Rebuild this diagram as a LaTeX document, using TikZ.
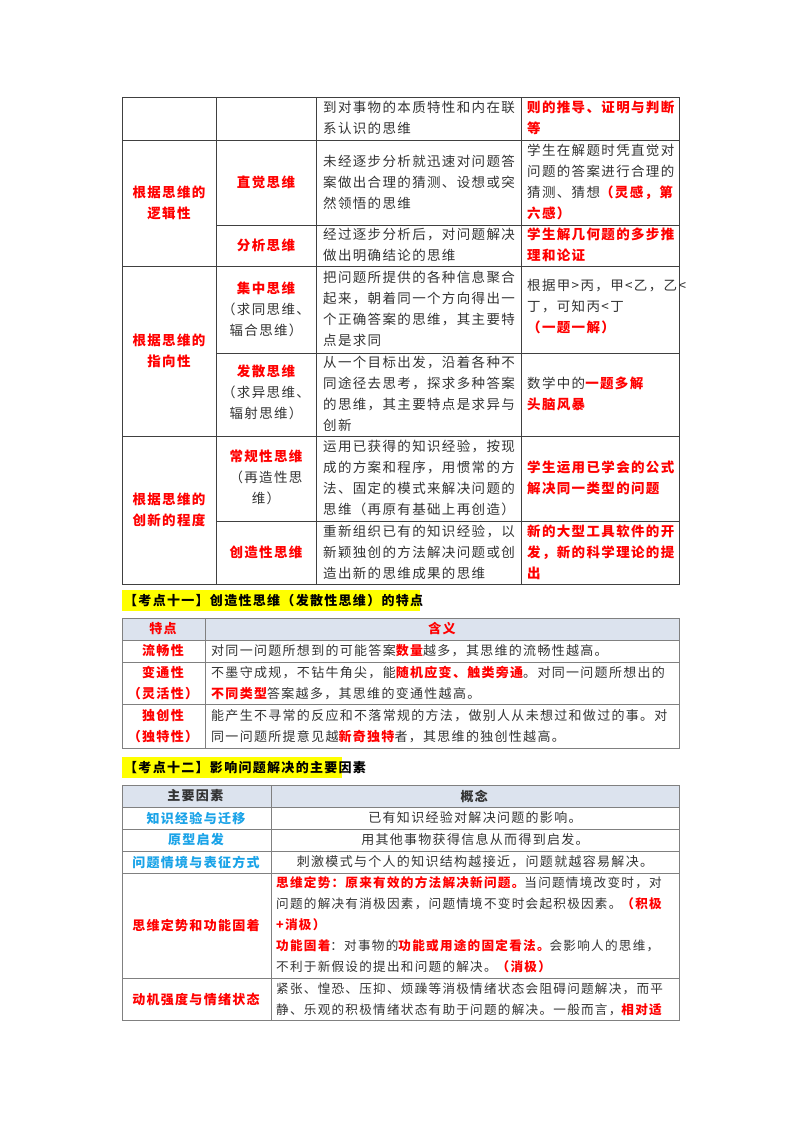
\documentclass[tikz,border=0pt]{standalone}
\usepackage{fontspec}
\setmainfont{Noto Sans CJK SC}[LetterSpace=10]
\XeTeXlinebreaklocale "zh"
\XeTeXlinebreakskip=0pt plus 1pt
\definecolor{txt}{HTML}{333333}
\definecolor{rd}{HTML}{FF0000}
\definecolor{bl}{HTML}{1AA3E8}
\definecolor{hdr}{HTML}{DCE3EE}
\definecolor{yl}{HTML}{FFFF00}
\newcommand\redb[1]{{\bfseries\color{rd}#1}}
\newcommand\blub[1]{{\bfseries\color{bl}#1}}
\tikzset{
 cellL/.style={text=txt,align=left,inner sep=0pt,font=\fontsize{13.5}{21}\selectfont},
 cellC/.style={text=txt,align=center,inner sep=0pt,font=\fontsize{13.5}{21}\selectfont},
 cellS/.style={text=txt,align=left,inner sep=0pt,font=\fontsize{13}{21}\selectfont},
 cellSC/.style={text=txt,align=center,inner sep=0pt,font=\fontsize{13}{21}\selectfont},
 tline/.style={draw=black!75,line width=0.8pt},
 gline/.style={draw=black!50,line width=0.8pt},
 head/.style={anchor=west,inner sep=0pt,font=\fontsize{13}{16}\selectfont\bfseries}
}
\begin{document}
\begin{tikzpicture}[x=1pt,y=-1pt]
\useasboundingbox[fill=white] (0,0) rectangle (800,1132);
% ---------- table 1 grid
\draw[tline] (122,97) rectangle (679,584);
\foreach \x in {216,316,521} \draw[tline] (\x,97) -- (\x,584);
\foreach \y in {140,266,436} \draw[tline] (122,\y) -- (679,\y);
\foreach \y in {225,353,521} \draw[tline] (216,\y) -- (679,\y);
% row 0
\node[cellL,anchor=west] (r0c3) at (323,118) {到对事物的本质特性和内在联\\系认识的思维};
\node[cellL,anchor=west] (r0c4) at (527,118) {\redb{则的推导、证明与判断}\\\redb{等}};
% logic
\node[cellC] (g1) at (169,203) {\redb{根据思维的}\\\redb{逻辑性}};
\node[cellC] (r1c2) at (266,182) {\redb{直觉思维}};
\node[cellL,anchor=west] (r1c3) at (323,182) {未经逐步分析就迅速对问题答\\案做出合理的猜测、设想或突\\然领悟的思维};
\node[cellL,anchor=west] (r1c4) at (527,182) {学生在解题时凭直觉对\\问题的答案进行合理的\\猜测、猜想\redb{（灵感，第}\\\redb{六感）}};
\node[cellC] (r2c2) at (266,245) {\redb{分析思维}};
\node[cellL,anchor=west] (r2c3) at (323,245) {经过逐步分析后，对问题解决\\做出明确结论的思维};
\node[cellL,anchor=west] (r2c4) at (527,245) {\redb{学生解几何题的多步推}\\\redb{理和论证}};
% direction
\node[cellC] (g2) at (169,351) {\redb{根据思维的}\\\redb{指向性}};
\node[cellC] (r3c2) at (266,309) {\redb{集中思维}\\（求同思维、\\辐合思维）};
\node[cellL,anchor=west] (r3c3) at (323,309) {把问题所提供的各种信息聚合\\起来，朝着同一个方向得出一\\个正确答案的思维，其主要特\\点是求同};
\node[cellL,anchor=west] (r3c4) at (527,307) {根据甲>丙，甲<乙，乙<\\丁，可知丙<丁\\\redb{（一题一解）}};
\node[cellC] (r4c2) at (266,392) {\redb{发散思维}\\（求异思维、\\辐射思维）};
\node[cellL,anchor=west] (r4c3) at (323,394) {从一个目标出发，沿着各种不\\同途径去思考，探求多种答案\\的思维，其主要特点是求异与\\创新};
\node[cellL,anchor=west] (r4c4) at (527,394) {数学中的\redb{一题多解}\\\redb{头脑风暴}};
% creativity
\node[cellC] (g3) at (169,510) {\redb{根据思维的}\\\redb{创新的程度}};
\node[cellC] (r5c2) at (266,477) {\redb{常规性思维}\\（再造性思\\维）};
\node[cellL,anchor=west] (r5c3) at (323,478) {运用已获得的知识经验，按现\\成的方案和程序，用惯常的方\\法、固定的模式来解决问题的\\思维（再原有基础上再创造）};
\node[cellL,anchor=west] (r5c4) at (527,478) {\redb{学生运用已学会的公式}\\\redb{解决同一类型的问题}};
\node[cellC] (r6c2) at (266,552) {\redb{创造性思维}};
\node[cellL,anchor=west] (r6c3) at (323,552) {重新组织已有的知识经验，以\\新颖独创的方法解决问题或创\\造出新的思维成果的思维};
\node[cellL,anchor=west] (r6c4) at (527,552) {\redb{新的大型工具软件的开}\\\redb{发，新的科学理论的提}\\\redb{出}};
% ---------- heading 1
\fill[yl] (122,590) rectangle (420,611);
\node[head] (h1) at (124,601) {【考点十一】创造性思维（发散性思维）的特点};
% ---------- table 2
\fill[hdr] (122,618) rectangle (679,640);
\draw[gline] (122,618) rectangle (679,748);
\draw[gline] (205,618) -- (205,748);
\foreach \y in {640,662,704} \draw[gline] (122,\y) -- (679,\y);
\node[cellSC] (t2h1) at (163,629) {\redb{特点}};
\node[cellSC] (t2h2) at (442,629) {\redb{含义}};
\node[cellSC] (t2a) at (163,651) {\redb{流畅性}};
\node[cellS,anchor=west] (t2b) at (211,651) {对同一问题所想到的可能答案\redb{数量}越多，其思维的流畅性越高。};
\node[cellSC] (t2c) at (163,683) {\redb{变通性}\\\redb{（灵活性）}};
\node[cellS,anchor=west] (t2d) at (211,683) {不墨守成规，不钻牛角尖，能\redb{随机应变、触类旁通}。对同一问题所想出的\\\redb{不同类型}答案越多，其思维的变通性越高。};
\node[cellSC] (t2e) at (163,726) {\redb{独创性}\\\redb{（独特性）}};
\node[cellS,anchor=west] (t2f) at (211,726) {能产生不寻常的反应和不落常规的方法，做别人从未想过和做过的事。对\\同一问题所提意见越\redb{新奇独特}者，其思维的独创性越高。};
% ---------- heading 2
\fill[yl] (122,757) rectangle (342,778);
\node[head] (h2) at (124,768) {【考点十二】影响问题解决的主要因素};
% ---------- table 3
\fill[hdr] (122,785) rectangle (679,807);
\draw[gline] (122,785) rectangle (679,1020);
\draw[gline] (271,785) -- (271,1020);
\foreach \y in {807,829,851,873,978} \draw[gline] (122,\y) -- (679,\y);
\node[cellSC] (t3h1) at (196,796) {\textbf{主要因素}};
\node[cellSC] (t3h2) at (475,796) {\textbf{概念}};
\node[cellSC] (t3a) at (196,818) {\blub{知识经验与迁移}};
\node[cellSC] (t3b) at (475,818) {已有知识经验对解决问题的影响。};
\node[cellSC] (t3c) at (196,840) {\blub{原型启发}};
\node[cellSC] (t3d) at (475,840) {用其他事物获得信息从而得到启发。};
\node[cellSC] (t3e) at (196,862) {\blub{问题情境与表征方式}};
\node[cellSC] (t3f) at (475,862) {刺激模式与个人的知识结构越接近，问题就越容易解决。};
\node[cellSC] (t3g) at (196,925) {\redb{思维定势和功能固着}};
\node[cellS,anchor=west,font=\fontsize{12.6}{21}\selectfont] (t3h) at (276,925) {\redb{思维定势：原来有效的方法解决新问题。}当问题情境改变时，对\\问题的解决有消极因素，问题情境不变时会起积极因素。\redb{（积极}\\\redb{+消极）}\\\redb{功能固着}：对事物的\redb{功能或用途的固定看法。}会影响人的思维，\\不利于新假设的提出和问题的解决。\redb{（消极）}};
\node[cellSC] (t3i) at (196,1000) {\redb{动机强度与情绪状态}};
\node[cellS,anchor=west,font=\fontsize{12.6}{21}\selectfont] (t3j) at (276,999) {紧张、惶恐、压抑、烦躁等消极情绪状态会阻碍问题解决，而平\\静、乐观的积极情绪状态有助于问题的解决。一般而言，\redb{相对适}};
\end{tikzpicture}
\end{document}
